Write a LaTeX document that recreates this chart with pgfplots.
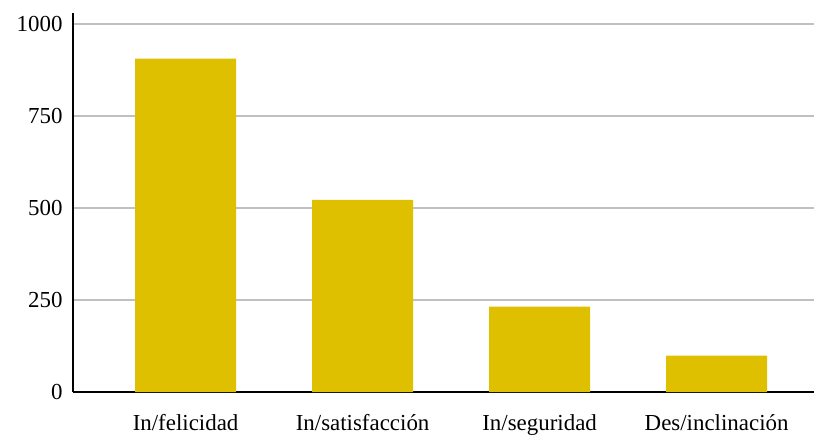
\documentclass[border=0pt]{standalone}
\usepackage{pgfplots}
\pgfplotsset{compat=1.18}
\usepackage{fontspec}
\setmainfont{Liberation Serif}
\definecolor{baryellow}{HTML}{DFC000}
\definecolor{gridgray}{HTML}{C0C0C0}
\begin{document}
\begin{tikzpicture}
\useasboundingbox (-73bp,-46bp) rectangle (741bp,392bp);
\begin{axis}[
  scale only axis,
  width=741bp, height=379bp,
  at={(0,0)}, anchor=south west,
  xmin=-0.636, xmax=3.55,
  ymin=0, ymax=1030,
  axis x line=bottom, axis y line=left,
  axis line style={-, line width=1.6bp, black},
  ytick={0,250,500,750,1000},
  xtick={0,1,2,3},
  xticklabels={In/felicidad, In/satisfacción, In/seguridad, Des/inclinación},
  major tick length=0pt,
  ymajorgrids,
  grid style={gridgray, line width=1.2bp},
  tick label style={font=\fontsize{23}{26}\selectfont},
  /pgf/number format/assume math mode=true,
  /pgf/number format/1000 sep={},
  yticklabel style={xshift=-7bp},
  xticklabel style={yshift=-19bp},
]
\addplot[ybar, bar width=101bp, fill=baryellow, draw=none] coordinates {
  (0,906) (1,522) (2,232) (3,99)
};
\end{axis}
\end{tikzpicture}
\end{document}
